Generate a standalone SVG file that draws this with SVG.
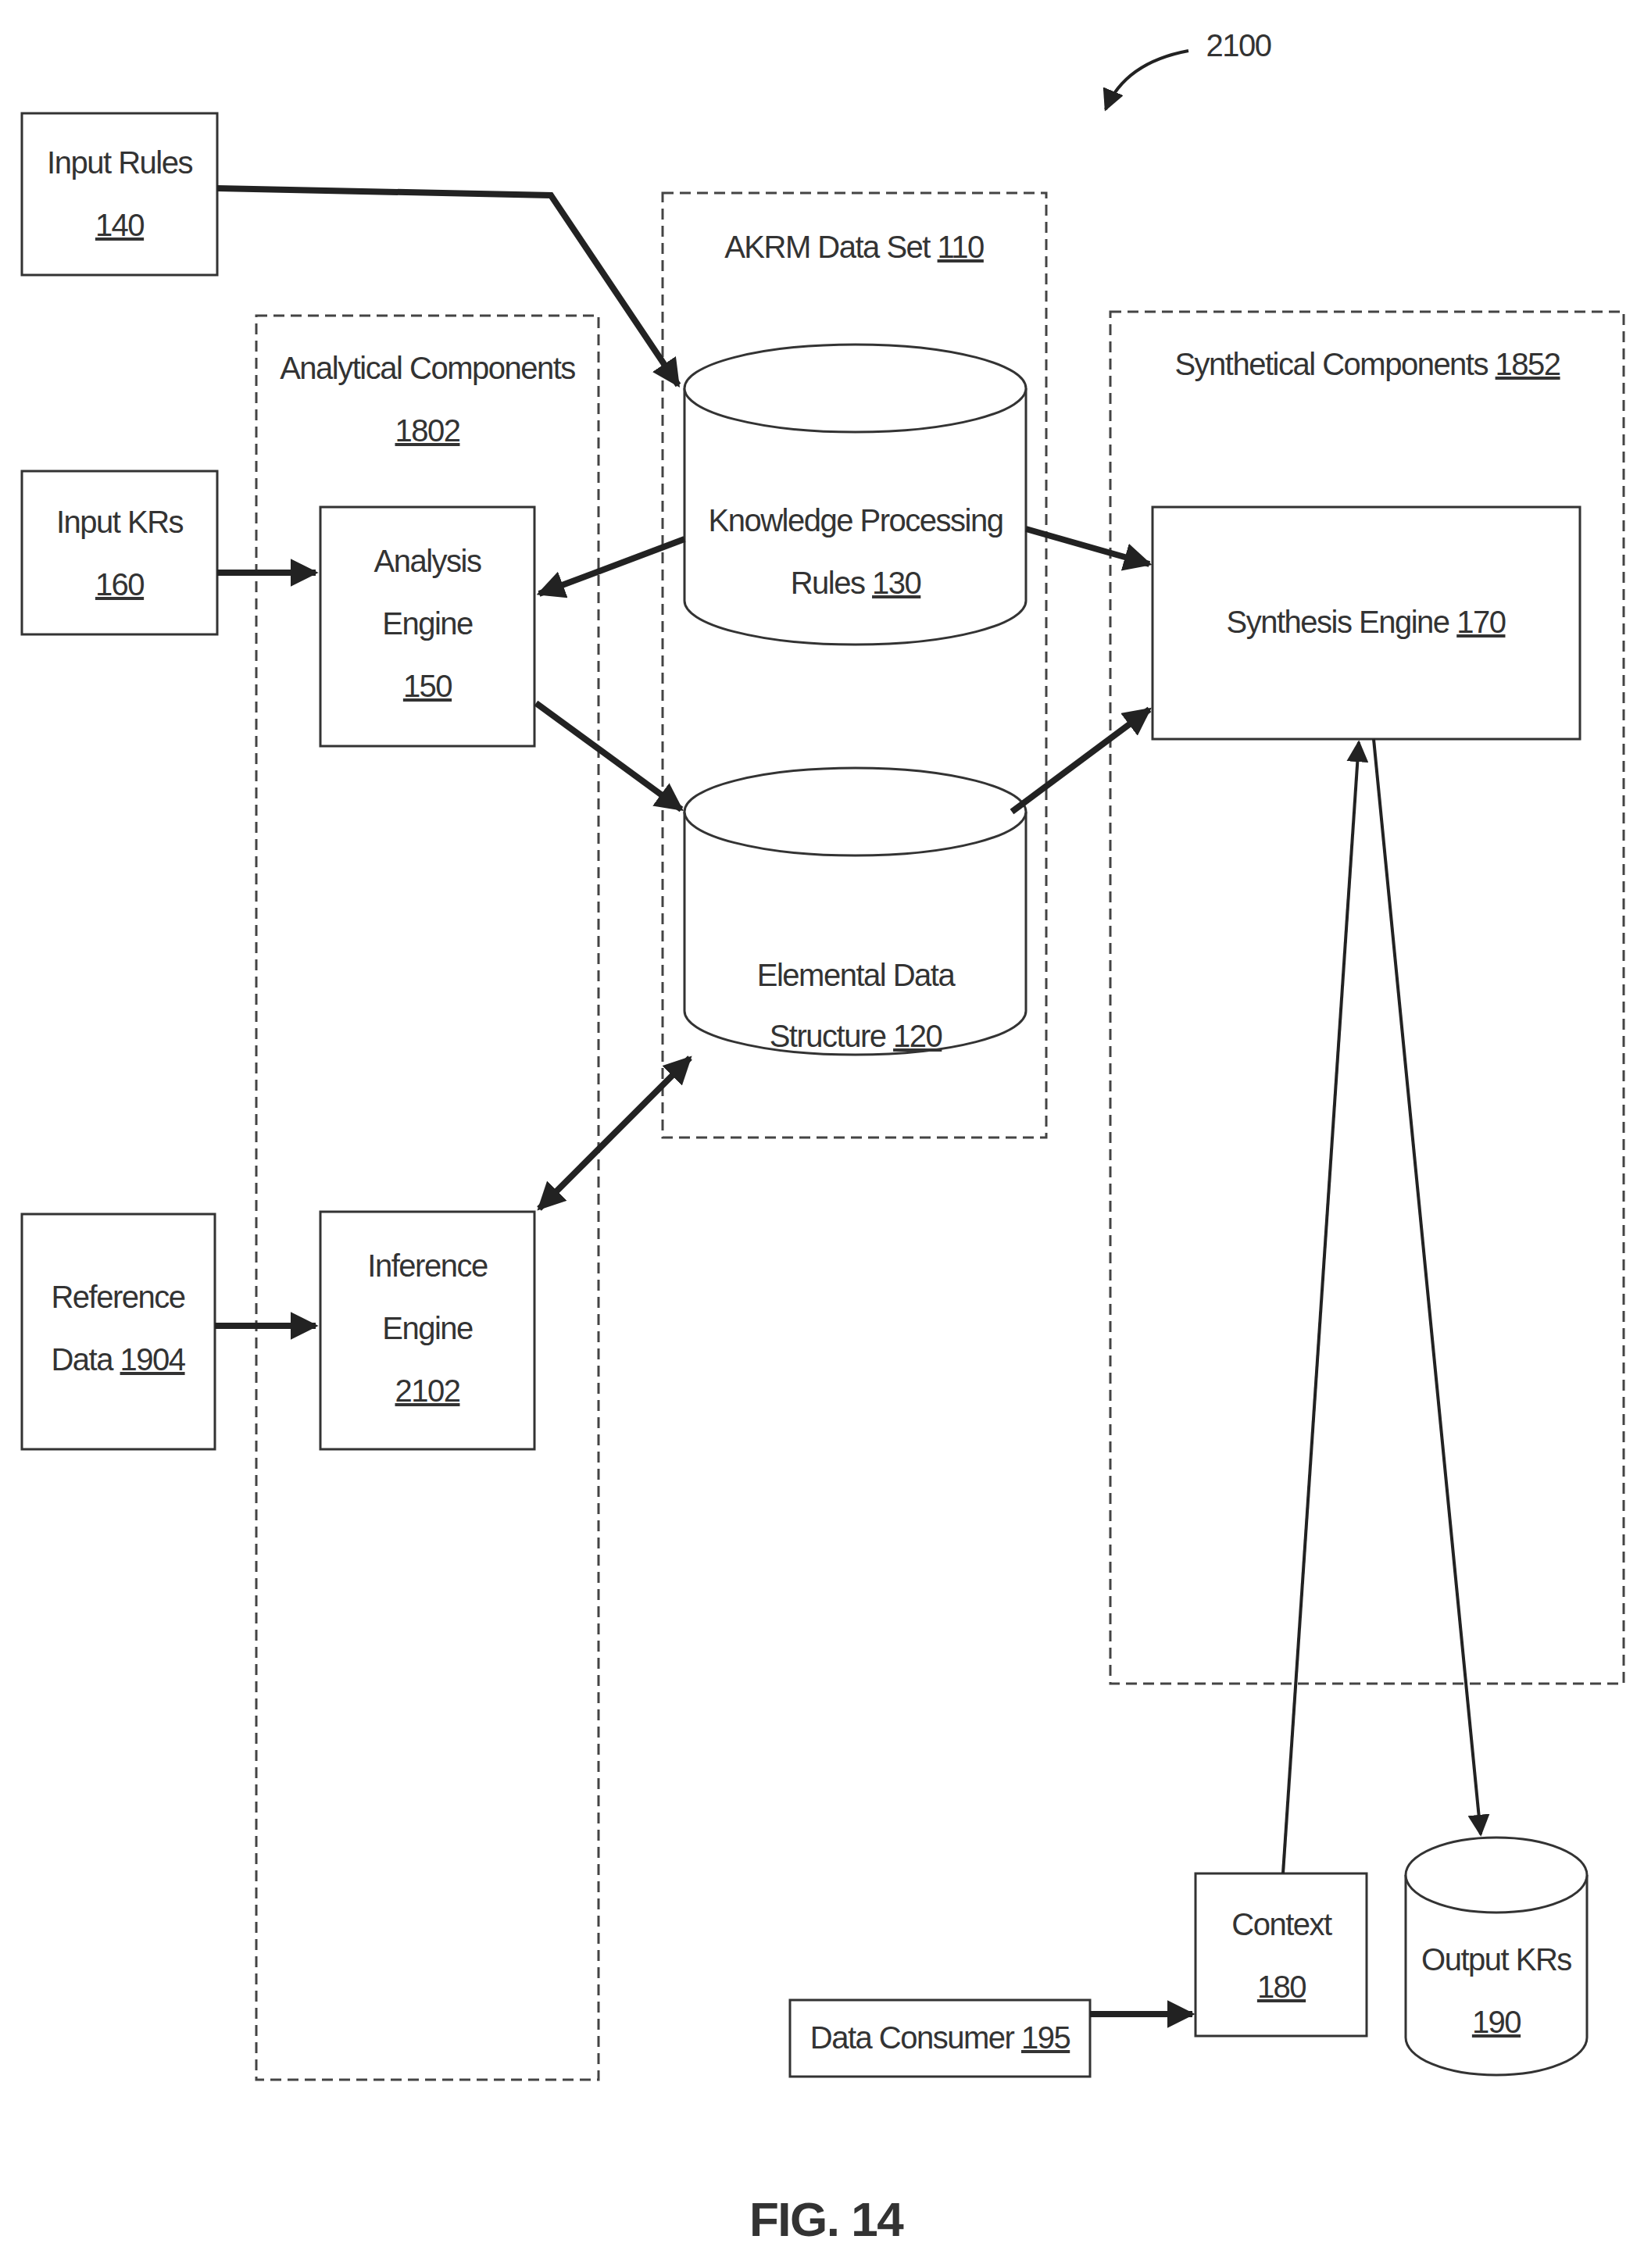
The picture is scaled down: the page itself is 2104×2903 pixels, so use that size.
<svg xmlns="http://www.w3.org/2000/svg" width="2104" height="2903" viewBox="0 0 2104 2903">
<style>
.b{fill:#fff;stroke:#333;stroke-width:3}
.d{fill:none;stroke:#444;stroke-width:3;stroke-dasharray:14 8}
.t{font-family:"Liberation Sans",Arial,sans-serif;font-size:40px;letter-spacing:-1.5px;fill:#333;text-anchor:middle}
.u{text-decoration:underline}
.c{fill:none;stroke:#222;stroke-width:8}
.n{fill:none;stroke:#222;stroke-width:4}
</style>
<defs>
<marker id="a" viewBox="0 0 10 10" refX="9" refY="5" markerWidth="4.5" markerHeight="4.5" orient="auto-start-reverse"><path d="M0,0L10,5L0,10z" fill="#222"/></marker>
<marker id="s" viewBox="0 0 10 10" refX="9" refY="5" markerWidth="7" markerHeight="7" orient="auto-start-reverse"><path d="M0,0L10,5L0,10z" fill="#222"/></marker>
</defs>
<g id="groups">
<rect class="d" x="328" y="404" width="438" height="2258"/>
<text class="t" x="547" y="485">Analytical Components</text>
<text class="t" x="547" y="565"><tspan class="u">1802</tspan></text>
<rect class="d" x="848" y="247" width="491" height="1209"/>
<text class="t" x="1093" y="330">AKRM Data Set <tspan class="u">110</tspan></text>
<rect class="d" x="1421" y="399" width="657" height="1756"/>
<text class="t" x="1750" y="480">Synthetical Components <tspan class="u">1852</tspan></text>
</g>
<g id="input-rules"><rect class="b" x="28" y="145" width="250" height="207"/>
<text class="t" x="153" y="222">Input Rules</text><text class="t" x="153" y="302"><tspan class="u">140</tspan></text></g>
<g id="input-krs"><rect class="b" x="28" y="603" width="250" height="209"/>
<text class="t" x="153" y="682">Input KRs</text><text class="t" x="153" y="762"><tspan class="u">160</tspan></text></g>
<g id="reference-data"><rect class="b" x="28" y="1554" width="247" height="301"/>
<text class="t" x="151" y="1674">Reference</text><text class="t" x="151" y="1754">Data <tspan class="u">1904</tspan></text></g>
<g id="analysis-engine"><rect class="b" x="410" y="649" width="274" height="306"/>
<text class="t" x="547" y="732">Analysis</text><text class="t" x="547" y="812">Engine</text><text class="t" x="547" y="892"><tspan class="u">150</tspan></text></g>
<g id="inference-engine"><rect class="b" x="410" y="1551" width="274" height="304"/>
<text class="t" x="547" y="1634">Inference</text><text class="t" x="547" y="1714">Engine</text><text class="t" x="547" y="1794"><tspan class="u">2102</tspan></text></g>
<g id="kpr"><path class="b" d="M876,497 A218,56 0 0 1 1313,497 V769 A218,56 0 0 1 876,769 Z"/><path class="b" d="M876,497 A218,56 0 0 0 1313,497"/>
<text class="t" x="1095" y="680">Knowledge Processing</text><text class="t" x="1095" y="760">Rules <tspan class="u">130</tspan></text></g>
<g id="eds"><path class="b" d="M876,1039 A218,56 0 0 1 1313,1039 V1294 A218,56 0 0 1 876,1294 Z"/><path class="b" d="M876,1039 A218,56 0 0 0 1313,1039"/>
<text class="t" x="1095" y="1262">Elemental Data</text><text class="t" x="1095" y="1340">Structure <tspan class="u">120</tspan></text></g>
<g id="synthesis-engine"><rect class="b" x="1475" y="649" width="547" height="297"/>
<text class="t" x="1748" y="810">Synthesis Engine <tspan class="u">170</tspan></text></g>
<g id="context"><rect class="b" x="1530" y="2398" width="219" height="208"/>
<text class="t" x="1640" y="2477">Context</text><text class="t" x="1640" y="2557"><tspan class="u">180</tspan></text></g>
<g id="output-krs"><path class="b" d="M1799,2400 A116,48 0 0 1 2031,2400 V2608 A116,48 0 0 1 1799,2608 Z"/><path class="b" d="M1799,2400 A116,48 0 0 0 2031,2400"/>
<text class="t" x="1915" y="2522">Output KRs</text><text class="t" x="1915" y="2602"><tspan class="u">190</tspan></text></g>
<g id="data-consumer"><rect class="b" x="1011" y="2560" width="384" height="98"/>
<text class="t" x="1203" y="2622">Data Consumer <tspan class="u">195</tspan></text></g>
<g id="connectors">
<path class="c" d="M278,241 L705,250 L868,493" marker-end="url(#a)"/>
<path class="c" d="M278,733 L404,733" marker-end="url(#a)"/>
<path class="c" d="M876,690 L690,760" marker-end="url(#a)"/>
<path class="c" d="M686,900 L872,1036" marker-end="url(#a)"/>
<path class="c" d="M1313,677 L1471,722" marker-end="url(#a)"/>
<path class="c" d="M1295,1039 L1471,908" marker-end="url(#a)"/>
<path class="c" d="M690,1547 L883,1354" marker-start="url(#a)" marker-end="url(#a)"/>
<path class="c" d="M275,1697 L404,1697" marker-end="url(#a)"/>
<path class="n" d="M1642,2398 L1739,950" marker-end="url(#s)"/>
<path class="n" d="M1758,946 L1895,2348" marker-end="url(#s)"/>
<path class="c" d="M1395,2578 L1526,2578" marker-end="url(#a)"/>
<path class="n" d="M1521,65 Q1440,80 1415,140" marker-end="url(#s)"/>
</g>
<text class="t" x="1585" y="72">2100</text>
<text class="t" x="1057" y="2862" style="font-size:62px;font-weight:bold">FIG. 14</text>
</svg>
